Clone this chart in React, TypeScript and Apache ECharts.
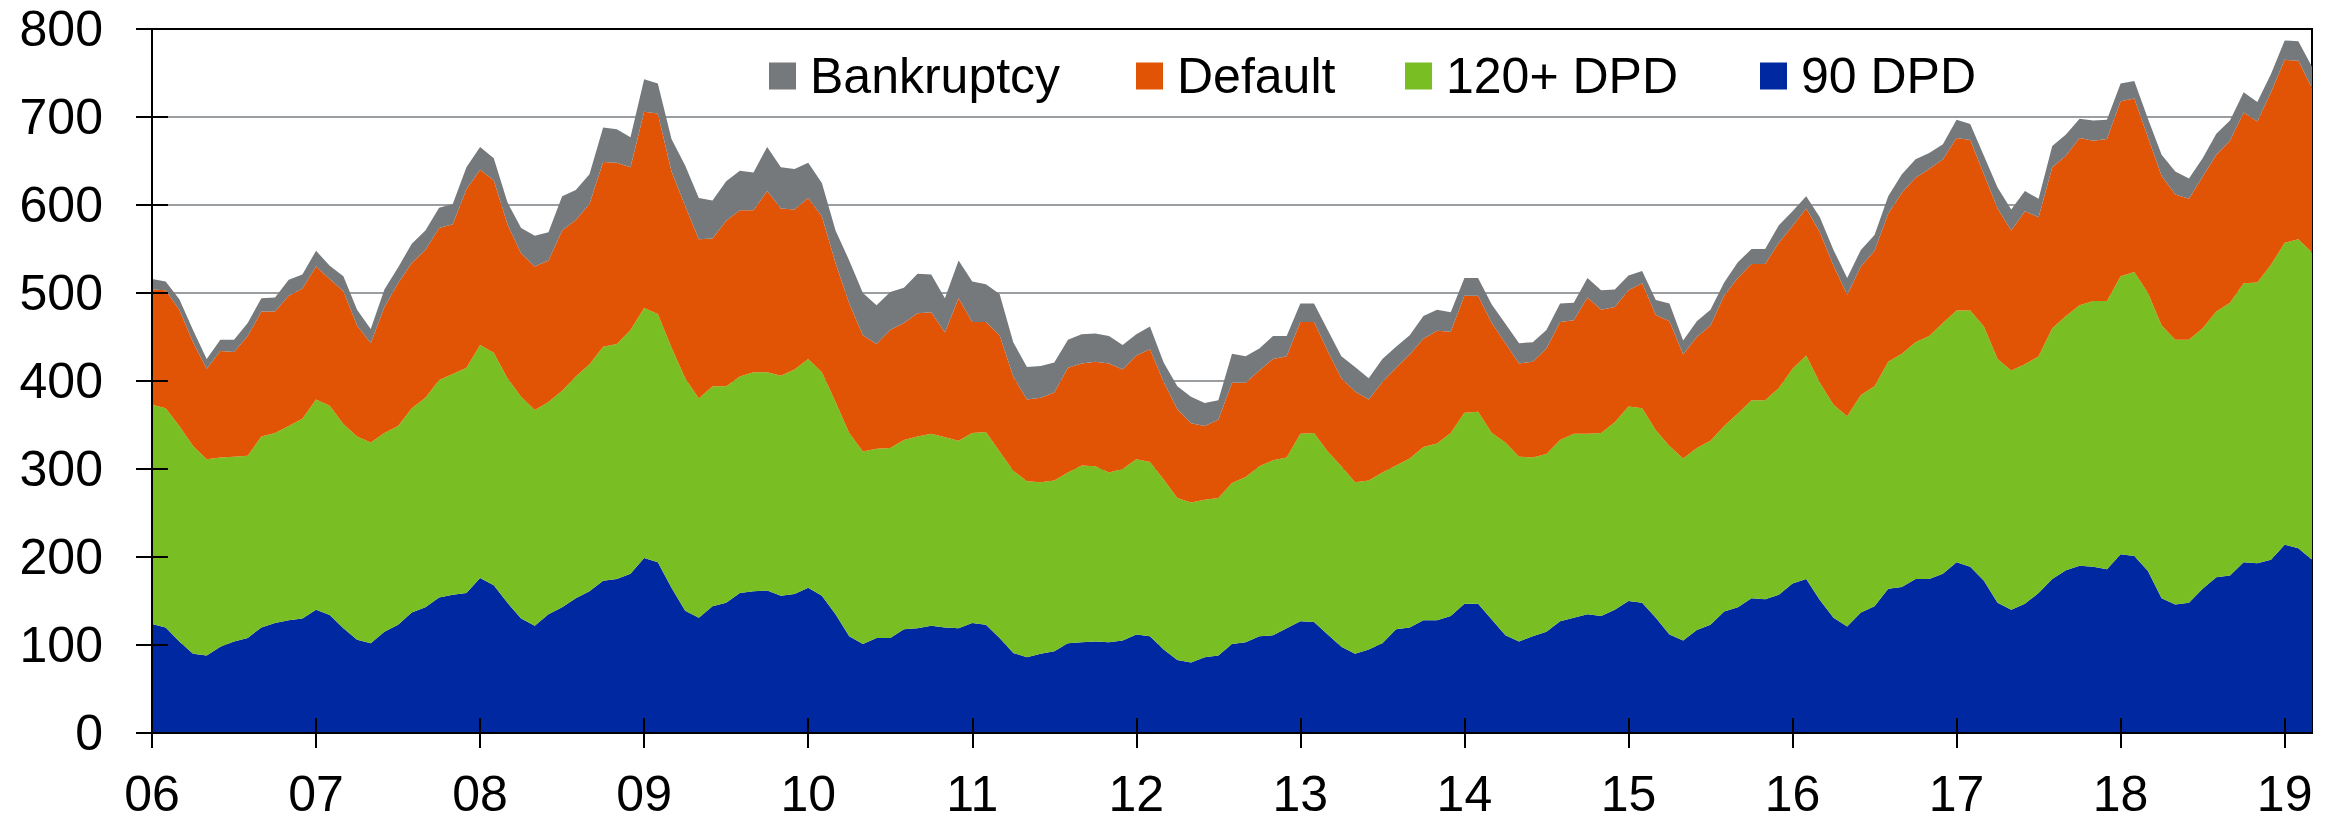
import React, { useEffect, useRef } from 'react';
import * as echarts from 'echarts';

// Monthly data, Jan 2006 – Mar 2019
const months = ['Jan', 'Feb', 'Mar', 'Apr', 'May', 'Jun', 'Jul', 'Aug', 'Sep', 'Oct', 'Nov', 'Dec'];
const yearLabels = ['06', '07', '08', '09', '10', '11', '12', '13', '14', '15', '16', '17', '18', '19'];

const dpd90 = [
  124, 120, 104, 90, 88, 98, 104, 108, 120, 125, 128, 130,
  140, 134, 119, 106, 102, 115, 123, 137, 143, 154, 157, 159,
  176, 168, 148, 130, 122, 135, 143, 153, 161, 173, 175, 181,
  199, 194, 165, 139, 131, 144, 148, 159, 161, 162, 156, 158,
  165, 156, 135, 110, 101, 108, 108, 118, 119, 122, 120, 119,
  125, 123, 108, 91, 86, 90, 93, 102, 103, 104, 103, 105,
  112, 110, 95, 83, 80, 86, 88, 101, 103, 110, 111, 119,
  127, 126, 112, 98, 90, 95, 102, 118, 120, 128, 128, 133,
  147, 147, 129, 111, 104, 110, 115, 127, 131, 135, 133, 140,
  150, 148, 131, 112, 105, 117, 123, 138, 143, 153, 152, 157,
  170, 175, 151, 131, 121, 137, 144, 164, 166, 175, 175, 181,
  194, 189, 173, 148, 140, 147, 159, 175, 185, 190, 189, 186,
  203, 201, 184, 153, 146, 148, 164, 177, 179, 194, 193, 197,
  214, 210, 197,
];

const dpd120 = [
  249, 249, 245, 236, 223, 215, 210, 207, 217, 216, 221, 227,
  239, 238, 232, 231, 228, 226, 226, 232, 238, 247, 251, 256,
  265, 264, 255, 252, 245, 241, 246, 252, 258, 266, 267, 277,
  284, 282, 273, 264, 249, 250, 246, 246, 249, 248, 250, 255,
  260, 254, 241, 231, 219, 215, 216, 215, 218, 218, 216, 213,
  216, 219, 212, 207, 200, 195, 194, 194, 201, 199, 193, 195,
  199, 198, 193, 184, 182, 179, 179, 183, 188, 193, 199, 194,
  213, 215, 208, 205, 195, 192, 194, 186, 192, 197, 201, 208,
  217, 218, 212, 219, 210, 203, 202, 206, 209, 205, 208, 213,
  221, 221, 213, 214, 207, 207, 209, 211, 220, 225, 226, 235,
  244, 254, 247, 242, 239, 247, 250, 258, 265, 269, 276, 285,
  286, 291, 289, 277, 272, 272, 269, 285, 289, 296, 302, 305,
  316, 323, 316, 310, 301, 299, 296, 302, 310, 317, 319, 335,
  343, 351, 349,
];

const defaults = [
  131, 134, 132, 118, 103, 121, 119, 136, 142, 138, 148, 148,
  151, 144, 151, 126, 113, 143, 162, 165, 168, 173, 170, 203,
  199, 196, 175, 163, 163, 161, 182, 178, 182, 210, 206, 185,
  223, 228, 200, 196, 181, 168, 188, 189, 184, 206, 190, 182,
  183, 177, 158, 147, 132, 119, 134, 133, 140, 138, 119, 162,
  126, 125, 132, 107, 93, 96, 100, 119, 116, 119, 124, 113,
  118, 128, 111, 101, 90, 84, 89, 114, 107, 109, 115, 115,
  127, 126, 114, 100, 103, 92, 103, 111, 118, 123, 128, 115,
  133, 132, 125, 113, 106, 109, 120, 134, 129, 155, 140, 131,
  132, 142, 131, 142, 118, 126, 131, 148, 154, 155, 155, 165,
  162, 167, 171, 158, 138, 146, 154, 168, 183, 187, 190, 186,
  196, 194, 173, 171, 159, 174, 158, 183, 182, 190, 182, 184,
  199, 197, 177, 170, 165, 160, 172, 178, 184, 194, 183, 196,
  208, 203, 187,
];

const bankruptcy = [
  12, 10, 12, 14, 11, 13, 14, 15, 15, 16, 18, 16,
  18, 15, 17, 18, 16, 20, 18, 22, 22, 23, 23, 25,
  26, 25, 25, 29, 35, 32, 39, 34, 34, 39, 38, 34,
  37, 34, 37, 46, 47, 43, 45, 45, 43, 50, 47, 46,
  40, 38, 37, 49, 48, 44, 43, 40, 45, 43, 39, 43,
  46, 43, 47, 39, 37, 36, 34, 32, 33, 32, 31, 28,
  24, 26, 22, 26, 30, 26, 22, 33, 30, 25, 26, 23,
  21, 21, 24, 25, 28, 24, 26, 24, 22, 26, 24, 22,
  20, 20, 21, 22, 23, 22, 21, 21, 20, 22, 22, 20,
  17, 14, 17, 20, 16, 18, 18, 15, 18, 17, 17, 20,
  17, 14, 17, 18, 19, 19, 18, 20, 21, 21, 18, 17,
  21, 18, 21, 24, 24, 23, 21, 24, 24, 22, 23, 22,
  20, 20, 21, 24, 26, 23, 21, 24, 23, 23, 22, 21,
  22, 22, 24,
];

const categories = dpd90.map((_, i) => `${months[i % 12]}-${yearLabels[Math.floor(i / 12)]}`);

const seriesNames = ['90 DPD', '120+ DPD', 'Default', 'Bankruptcy'];
const legendOrder = ['Bankruptcy', 'Default', '120+ DPD', '90 DPD'];

const COLORS: Record<string, string> = {
  '90 DPD': '#0028A0',
  '120+ DPD': '#79BE22',
  Default: '#E25405',
  Bankruptcy: '#76797C',
};

const FONT = '"Liberation Sans", Arial, Helvetica, sans-serif';

export default function App() {
  const ref = useRef<HTMLDivElement>(null);

  useEffect(() => {
    if (!ref.current) return;
    const chart = echarts.init(ref.current, undefined, { renderer: 'svg' });
    const seriesData = [dpd90, dpd120, defaults, bankruptcy];
    const isYear = (index: number) => index % 12 === 0;
    const tickStyle = { color: '#000', width: 2 };
    const legendLefts = [764, 1131, 1400, 1755];

    chart.setOption({
      animation: false,
      textStyle: { fontFamily: FONT },
      grid: {
        left: 152,
        right: 16,
        top: 29,
        bottom: 89,
        show: true,
        borderColor: '#000',
        borderWidth: 2,
        backgroundColor: 'transparent',
      },
      legend: legendOrder.map((name, i) => ({
        data: [name],
        left: legendLefts[i],
        top: 46,
        icon: 'rect',
        itemWidth: 27,
        itemHeight: 27,
        selectedMode: false,
        formatter: (n: string) => `{t|${n}}`,
        textStyle: {
          rich: {
            t: { fontSize: 50, color: '#000', fontFamily: FONT, padding: [0, 0, 0, 9] },
          },
        },
      })),
      xAxis: [
        {
          type: 'category',
          data: categories,
          boundaryGap: false,
          axisLine: { show: true, lineStyle: tickStyle },
          axisTick: { show: true, interval: (i: number) => isYear(i), length: 15, lineStyle: tickStyle },
          axisLabel: {
            show: true,
            interval: (i: number) => isYear(i),
            formatter: (_v: string, i: number) => yearLabels[Math.floor(i / 12)],
            margin: 40,
            fontSize: 50,
            lineHeight: 42,
            color: '#000',
            fontFamily: FONT,
          },
          splitLine: { show: false },
        },
        {
          type: 'category',
          data: categories,
          boundaryGap: false,
          position: 'bottom',
          z: 10,
          axisLine: { show: true, lineStyle: tickStyle },
          axisTick: { show: true, inside: true, interval: (i: number) => isYear(i), length: 15, lineStyle: tickStyle },
          axisLabel: { show: false },
          splitLine: { show: false },
        },
      ],
      yAxis: [
        {
          type: 'value',
          min: 0,
          max: 800,
          interval: 100,
          position: 'left',
          axisLine: { show: true, lineStyle: tickStyle },
          axisTick: { show: true, length: 16, lineStyle: tickStyle },
          axisLabel: { margin: 49, fontSize: 50, color: '#000', fontFamily: FONT },
          splitLine: {
            show: true,
            lineStyle: {
              color: ['#9A9EA1', '#9A9EA1', '#9A9EA1', '#9A9EA1', '#9A9EA1', '#9A9EA1', '#9A9EA1', '#9A9EA1', '#000'],
              width: 2,
            },
          },
        },
        {
          type: 'value',
          min: 0,
          max: 800,
          interval: 100,
          position: 'left',
          z: 10,
          axisLine: { show: true, lineStyle: tickStyle },
          axisTick: { show: true, inside: true, length: 16, lineStyle: tickStyle },
          axisLabel: { show: false },
          splitLine: { show: false },
        },
      ],
      series: seriesNames.map((name, i) => ({
        name,
        type: 'line',
        stack: 'total',
        data: seriesData[i],
        xAxisIndex: 0,
        yAxisIndex: 0,
        symbol: 'none',
        showSymbol: false,
        silent: true,
        lineStyle: { width: 0, color: COLORS[name] },
        itemStyle: { color: COLORS[name] },
        areaStyle: { color: COLORS[name], opacity: 1 },
      })),
    });

    return () => chart.dispose();
  }, []);

  return (
    <div
      ref={ref}
      style={{ position: 'absolute', left: 0, top: 0, width: 2328, height: 822 }}
    />
  );
}
